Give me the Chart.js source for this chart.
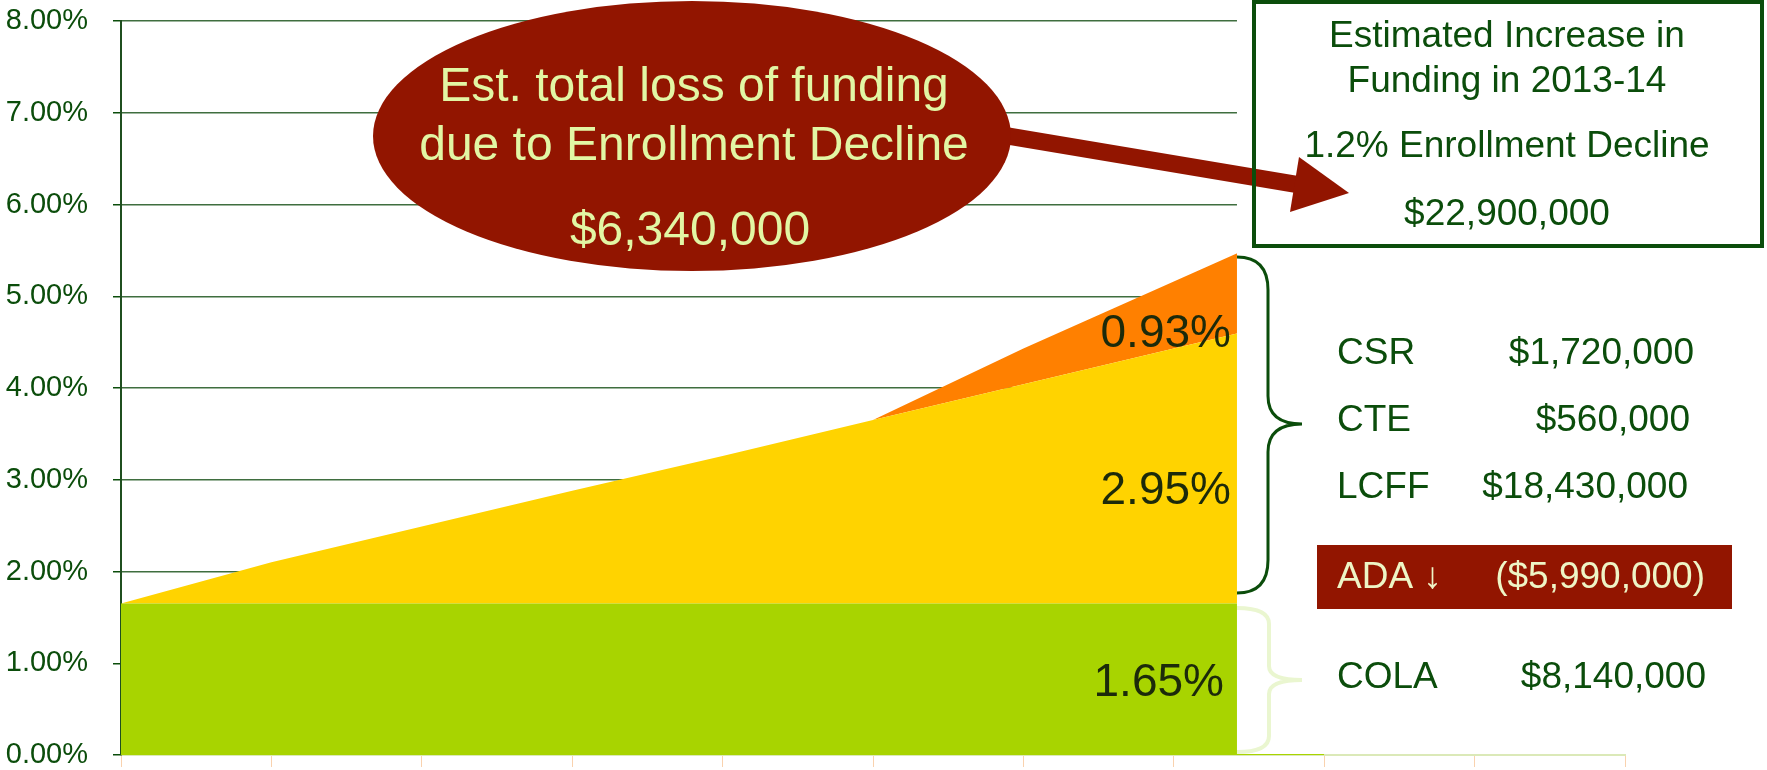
<!DOCTYPE html>
<html>
<head>
<meta charset="utf-8">
<title>Estimated Increase in Funding in 2013-14</title>
<script src="https://cdn.jsdelivr.net/npm/chart.js@4.4.0/dist/chart.umd.min.js"></script>
<style>
  html, body { margin: 0; padding: 0; background: #fff; }
</style>
</head>
<body>
<canvas id="grafico" width="1767" height="770"></canvas>
<script>
// Datos del grafico (porcentaje, apilado)

const categorias = ['', '', '', '', '', '', '', '', '', '', '']
const cola = [1.65, 1.65, 1.65, 1.65, 1.65, 1.65, 1.65, 1.65, 1.65]
const lcff = [0, 0.45, 0.84, 1.23, 1.61, 2.00, 2.39, 2.78, 3.17]
const csrCte = [0, 0, 0, 0, 0, 0, 0.39, 0.73, 1.07]
const ticksY = [0, 1, 2, 3, 4, 5, 6, 7, 8]

const etiquetasArea = ['1.65%', '2.95%', '0.93%']
const conceptos = ['CSR', 'CTE', 'LCFF']
const montos = ['$1,720,000', '$560,000', '$18,430,000']


const fuente = '"Liberation Sans", Arial, sans-serif'
const verde = '#0b4d0b'
const rojo = '#921500'
const corteX = 7.42 // donde el cuadro blanco tapa el grafico


function texto(ctx, t, x, y, size, color, align) {
    ctx.font = `${size}px ${fuente}`
    ctx.fillStyle = color
    ctx.textAlign = align || 'center'
    ctx.textBaseline = 'middle'
    ctx.fillText(t, x, y)
}


// tapa la parte derecha del grafico, como en la diapositiva
const cubierta = {
    id: 'cubierta',
    afterDatasetsDraw(chart) {
        const ctx = chart.ctx
        const x = chart.scales.x.getPixelForValue(corteX)
        ctx.save()
        ctx.fillStyle = '#fff'
        ctx.fillRect(x, 0, chart.width - x, chart.chartArea.bottom - 1)
        ctx.restore()
    }
}


// globo, flecha, cuadro y textos de la derecha
const anotaciones = {
    id: 'anotaciones',
    afterDraw(chart) {
        const ctx = chart.ctx
        const y = chart.scales.y
        const xCorte = chart.scales.x.getPixelForValue(corteX)
        ctx.save()

        // etiquetas dentro de las areas
        const posEtiquetas = [0.78, 2.87, 4.58]
        const finEtiquetas = [xCorte - 13, xCorte - 6, xCorte - 6]
        etiquetasArea.forEach((t, i) => {
            texto(ctx, t, finEtiquetas[i], y.getPixelForValue(posEtiquetas[i]), 46, '#1c2a0a', 'right')
        })

        // flecha
        ctx.strokeStyle = rojo
        ctx.lineWidth = 17
        ctx.beginPath()
        ctx.moveTo(990, 133)
        ctx.lineTo(1300, 185)
        ctx.stroke()
        ctx.fillStyle = rojo
        ctx.beginPath()
        ctx.moveTo(1299, 157)
        ctx.lineTo(1349, 193)
        ctx.lineTo(1290, 212)
        ctx.closePath()
        ctx.fill()

        // globo
        ctx.beginPath()
        ctx.ellipse(692, 136, 319, 135, 0, 0, Math.PI * 2)
        ctx.fill()
        const claro = '#e2f6a4'
        texto(ctx, 'Est. total loss of funding', 694, 88, 48, claro)
        texto(ctx, 'due to Enrollment Decline', 694, 147, 48, claro)
        texto(ctx, '$6,340,000', 690, 232, 48, claro)

        // cuadro de arriba a la derecha
        ctx.strokeStyle = verde
        ctx.lineWidth = 4
        ctx.strokeRect(1254, 2, 508, 244)
        texto(ctx, 'Estimated Increase in', 1507, 37, 37, verde)
        texto(ctx, 'Funding in 2013-14', 1507, 82, 37, verde)
        texto(ctx, '1.2% Enrollment Decline', 1507, 147, 37, verde)
        texto(ctx, '$22,900,000', 1507, 215, 37, verde)

        // llaves
        ctx.lineWidth = 3
        ctx.beginPath()
        ctx.moveTo(1237, 257)
        ctx.quadraticCurveTo(1268, 257, 1268, 290)
        ctx.lineTo(1268, 396)
        ctx.quadraticCurveTo(1268, 424, 1302, 424)
        ctx.quadraticCurveTo(1268, 424, 1268, 452)
        ctx.lineTo(1268, 560)
        ctx.quadraticCurveTo(1268, 593, 1237, 593)
        ctx.stroke()

        ctx.strokeStyle = '#eaf6d0'
        ctx.lineWidth = 4
        ctx.beginPath()
        ctx.moveTo(1237, 608)
        ctx.quadraticCurveTo(1269, 608, 1269, 624)
        ctx.lineTo(1269, 666)
        ctx.quadraticCurveTo(1269, 680, 1302, 680)
        ctx.quadraticCurveTo(1269, 680, 1269, 694)
        ctx.lineTo(1269, 736)
        ctx.quadraticCurveTo(1269, 752, 1237, 752)
        ctx.stroke()

        // montos
        const filas = [354, 421, 488]
        const finMontos = [1694, 1690, 1688]
        conceptos.forEach((c, i) => {
            texto(ctx, c, 1337, filas[i], 37, verde, 'left')
            texto(ctx, montos[i], finMontos[i], filas[i], 37, verde, 'right')
        })

        ctx.fillStyle = rojo
        ctx.fillRect(1317, 545, 415, 64)
        texto(ctx, 'ADA \u2193', 1337, 578, 37, '#eef5c6', 'left')
        texto(ctx, '($5,990,000)', 1705, 578, 37, '#eef5c6', 'right')

        texto(ctx, 'COLA', 1337, 678, 37, verde, 'left')
        texto(ctx, '$8,140,000', 1706, 678, 37, verde, 'right')

        ctx.restore()
    }
}


const config = {
    type: 'line',
    data: {
        labels: categorias,
        datasets: [
            {
                label: 'COLA',
                data: cola,
                backgroundColor: '#a8d400',
                fill: 'origin'
            },
            {
                label: 'LCFF',
                data: lcff,
                backgroundColor: '#ffd300',
                fill: '-1'
            },
            {
                label: 'CSR / CTE',
                data: csrCte,
                backgroundColor: '#ff8000',
                fill: '-1'
            }
        ]
    },
    options: {
        responsive: false,
        animation: false,
        devicePixelRatio: 1,
        layout: {
            autoPadding: false,
            padding: { left: 4, top: 21, right: 142, bottom: 0 }
        },
        elements: {
            line: { borderWidth: 0, tension: 0 },
            point: { radius: 0 }
        },
        plugins: {
            legend: { display: false },
            tooltip: { enabled: false }
        },
        scales: {
            x: {
                offset: false,
                afterFit: (scale) => { scale.height = 15 },
                ticks: { display: false },
                grid: {
                    drawOnChartArea: false,
                    tickLength: 12,
                    tickColor: '#f9d2ae',
                    lineWidth: 1
                },
                border: { color: '#dbe9b8', width: 2 }
            },
            y: {
                stacked: true,
                min: 0,
                max: 8,
                // ancho fijo y sin margen extra arriba/abajo por las etiquetas
                afterFit: (scale) => {
                    scale.width = 117
                    scale.paddingTop = 0
                    scale.paddingBottom = 0
                },
                afterBuildTicks: (scale) => {
                    scale.ticks = ticksY.map((v) => ({ value: v }))
                },
                ticks: {
                    padding: 25,
                    color: verde,
                    font: { family: fuente, size: 29 },
                    callback: (v) => v.toFixed(2) + '%'
                },
                grid: {
                    color: '#3f6e3f',
                    lineWidth: 1.5,
                    tickLength: 8,
                    tickColor: verde
                },
                border: { color: '#1f4f1f', width: 2 }
            }
        }
    },
    plugins: [cubierta, anotaciones]
}

const ctx = document.getElementById('grafico').getContext('2d')
const myChart = new Chart(ctx, config)
</script>
</body>
</html>
